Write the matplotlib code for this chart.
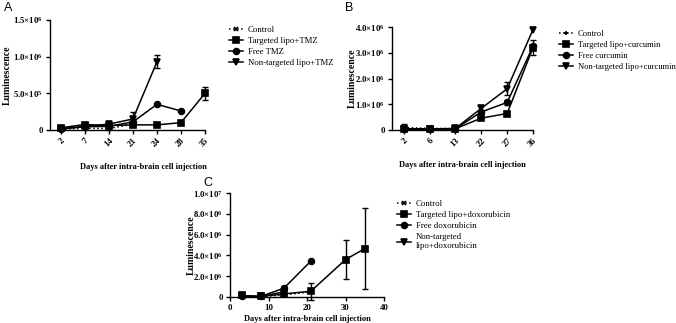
import matplotlib
matplotlib.use('Agg')
import matplotlib.pyplot as plt
import numpy as np

plt.rcParams['font.family'] = ['Liberation Serif', 'DejaVu Serif']
plt.rcParams['mathtext.fontset'] = 'custom'
plt.rcParams['mathtext.rm'] = 'Liberation Serif:bold'
plt.rcParams['mathtext.bf'] = 'Liberation Serif:bold'
plt.rcParams['mathtext.it'] = 'Liberation Serif:bold'

# Panel A - TMZ (categorical days)
A_days = ['2', '7', '14', '21', '24', '28', '35']
A_control = [1.0e4, 2.5e4, 2.0e4, 8.0e4]
A_targeted = [3.0e4, 7.5e4, 6.0e4, 7.0e4, 7.0e4, 1.0e5, 5.0e5]
A_targeted_err = [0, 0, 0, 0, 0, 0, 8.5e4]
A_free = [2.0e4, 4.5e4, 5.0e4, 1.1e5, 3.5e5, 2.6e5]
A_nontarget = [1.0e4, 5.0e4, 8.0e4, 1.5e5, 9.3e5]
A_nontarget_err = [0, 0, 0, 9.0e4, 9.0e4]
A_yticks = [0, 5e5, 1e6, 1.5e6]
A_ylabels = ['0', '5.0×10$^{5}$', '1.0×10$^{6}$', '1.5×10$^{6}$']

# Panel B - curcumin (categorical days)
B_days = ['2', '6', '13', '22', '27', '36']
B_control = [1.0e5, 6.0e4, 5.0e4]
B_control_err = [1.5e5, 0, 0]
B_targeted = [5.0e4, 3.0e4, 5.0e4, 4.6e5, 6.4e5, 3.2e6]
B_targeted_err = [0, 0, 0, 0, 5.0e4, 2.8e5]
B_free = [3.0e4, 5.0e4, 5.0e4, 7.0e5, 1.07e6, 3.25e6]
B_free_err = [0, 0, 0, 0, 1.0e5, 0]
B_nontarget = [2.0e4, 4.0e4, 6.0e4, 8.4e5, 1.6e6, 3.9e6]
B_nontarget_err = [0, 0, 0, 1.0e5, 2.5e5, 0]
B_yticks = [0, 1e6, 2e6, 3e6, 4e6]
B_ylabels = ['0', '1.0×10$^{6}$', '2.0×10$^{6}$', '3.0×10$^{6}$', '4.0×10$^{6}$']

# Panel C - doxorubicin (numeric days)
C_days = [3, 8, 14, 21, 30, 35]
C_control = [1.0e5, 5.0e4, 2.0e5, 5.0e5]
C_targeted = [1.5e5, 5.0e4, 3.0e5, 5.5e5, 3.6e6, 4.65e6]
C_targeted_err = [0, 0, 0, 8.0e5, 1.85e6, 3.9e6]
C_free = [1.0e5, 5.0e4, 8.5e5, 3.45e6]
C_free_err = [0, 0, 2.0e5, 0]
C_nontarget = [5.0e4, 5.0e4, 5.0e5]
C_yticks = [0, 2e6, 4e6, 6e6, 8e6, 1e7]
C_ylabels = ['0', '2.0×10$^{6}$', '4.0×10$^{6}$', '6.0×10$^{6}$', '8.0×10$^{6}$', '1.0×10$^{7}$']

W, H = 676, 323
fig = plt.figure(figsize=(W / 100, H / 100), dpi=100)


def px_axes(x0, y0, x1, y1):
    # pixel box (left, top, right, bottom) -> figure axes
    return fig.add_axes([x0 / W, 1 - y1 / H, (x1 - x0) / W, (y1 - y0) / H])


def style(ax):
    for s in ['top', 'right']:
        ax.spines[s].set_visible(False)
    for s in ['left', 'bottom']:
        ax.spines[s].set_linewidth(1.0)
    ax.tick_params(length=3, width=1.0, labelsize=6.3, pad=2)
    for lab in ax.get_xticklabels() + ax.get_yticklabels():
        lab.set_fontweight('bold')


def series(ax, x, y, err, marker, ls='-', ms=4.2, label=None):
    ax.plot(x, y, color='black', lw=1.1, ls=ls, marker=marker, ms=ms,
            mew=1.2, label=label, clip_on=False)
    if err is not None:
        yerr = np.array(err, dtype=float)
        ax.errorbar(x, y, yerr=np.where(yerr > 0, yerr, np.nan), fmt='none',
                    ecolor='black', capsize=2, elinewidth=1.0, capthick=1.0, clip_on=False)


lkw = dict(frameon=False, fontsize=6.3, handlelength=1.6, labelspacing=0.35,
           handletextpad=0.6, borderaxespad=0)
lab_kw = dict(fontsize=7, fontweight='bold')
xlab = 'Days after intra-brain cell injection'

# ---- A ----
axA = px_axes(50, 20, 205, 130)
xa = np.arange(len(A_days))
series(axA, xa[:len(A_control)], A_control, None, 'x', ls=':', ms=3.5, label='Control')
series(axA, xa, A_targeted, A_targeted_err, 's', label='Targeted lipo+TMZ')
series(axA, xa[:len(A_free)], A_free, None, 'o', label='Free TMZ')
series(axA, xa[:len(A_nontarget)], A_nontarget, A_nontarget_err, 'v', label='Non-targeted lipo+TMZ')
axA.set_xlim(-0.45, 6.0)
axA.set_ylim(0, 1.5e6)
axA.set_xticks(xa)
axA.set_xticklabels(A_days, rotation=45, ha='right', rotation_mode='anchor')
axA.set_yticks(A_yticks)
axA.set_yticklabels(A_ylabels)
axA.set_ylabel('Luminescence', **lab_kw)
axA.yaxis.set_label_coords(-0.245, 0.5)
axA.set_xlabel(xlab, fontsize=6, fontweight='bold')
axA.xaxis.set_label_coords(0.6, -0.3)
style(axA)
axA.legend(loc='upper left', bbox_to_anchor=(225 / W, 1 - 22 / H), bbox_transform=fig.transFigure, **lkw)

# ---- B ----
axB = px_axes(392, 27, 533, 130)
xb = np.arange(len(B_days))
series(axB, xb[:len(B_control)], B_control, B_control_err, '+', ls=':', ms=3.5, label='Control')
series(axB, xb, B_targeted, B_targeted_err, 's', label='Targeted lipo+curcumin')
series(axB, xb, B_free, B_free_err, 'o', label='Free curcumin')
series(axB, xb, B_nontarget, B_nontarget_err, 'v', label='Non-targeted lipo+curcumin')
axB.set_xlim(-0.45, 5.0)
axB.set_ylim(0, 4e6)
axB.set_xticks(xb)
axB.set_xticklabels(B_days, rotation=45, ha='right', rotation_mode='anchor')
axB.set_yticks(B_yticks)
axB.set_yticklabels(B_ylabels)
axB.set_ylabel('Luminescence', **lab_kw)
axB.yaxis.set_label_coords(-0.25, 0.5)
axB.set_xlabel(xlab, fontsize=6, fontweight='bold')
axB.xaxis.set_label_coords(0.5, -0.3)
style(axB)
axB.legend(loc='upper left', bbox_to_anchor=(556 / W, 1 - 27 / H), bbox_transform=fig.transFigure,
           **dict(lkw, fontsize=6.1))

# ---- C ----
axC = px_axes(230, 193, 384, 297)
series(axC, C_days[:len(C_control)], C_control, None, 'x', ls=':', ms=3.5, label='Control')
series(axC, C_days, C_targeted, C_targeted_err, 's', label='Targeted lipo+doxorubicin')
series(axC, C_days[:len(C_free)], C_free, C_free_err, 'o', label='Free doxorubicin')
series(axC, C_days[:len(C_nontarget)], C_nontarget, None, 'v', label='Non-targeted\nlipo+doxorubicin')
axC.set_xlim(0, 40)
axC.set_ylim(0, 1e7)
axC.set_xticks([0, 10, 20, 30, 40])
axC.set_yticks(C_yticks)
axC.set_yticklabels(C_ylabels)
axC.set_ylabel('Luminescence', **lab_kw)
axC.yaxis.set_label_coords(-0.225, 0.5)
axC.set_xlabel(xlab, fontsize=6, fontweight='bold', labelpad=2)
style(axC)
axC.legend(loc='upper left', bbox_to_anchor=(393 / W, 1 - 196 / H), bbox_transform=fig.transFigure, **lkw)

# panel letters
for txt, x, y in [('A', 4, 11), ('B', 345, 11), ('C', 203, 186)]:
    fig.text(x / W, 1 - y / H, txt, fontsize=9, family='Liberation Sans')

fig.savefig('out.png', dpi=100)
